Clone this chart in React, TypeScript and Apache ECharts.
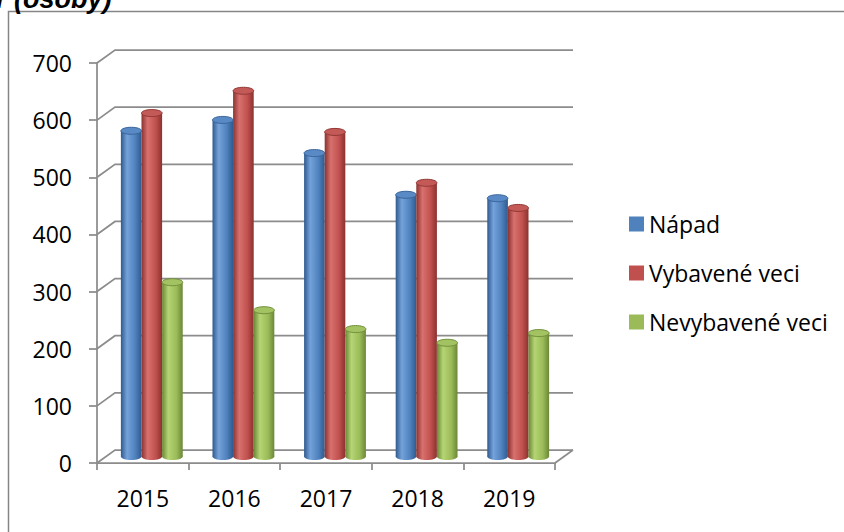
import React, { useEffect, useRef } from "react";
import * as echarts from "echarts";

const categories = ["2015", "2016", "2017", "2018", "2019"];
const napad = [570, 589, 531, 458, 452];
const vybavene = [601, 640, 568, 479, 435];
const nevybavene = [305, 256, 223, 199, 216];
const yTicks = [0, 100, 200, 300, 400, 500, 600, 700];
const seriesNames = ["Nápad", "Vybavené veci", "Nevybavené veci"];

const DX = 18;
const DY = 13;
const FONT = "'Open Sans', 'Liberation Sans', sans-serif";

const palettes = [
  { base: "#4F81BD", dark: "#2f5a8e", light: "#74a2da", top: "#5a8ac6", edge: "#3a659b" },
  { base: "#C0504D", dark: "#8a3230", light: "#d8716e", top: "#c45a57", edge: "#923835" },
  { base: "#9BBB59", dark: "#6b8736", light: "#b5d574", top: "#a3c363", edge: "#71903a" },
];

export default function App() {
  const ref = useRef<HTMLDivElement>(null);

  useEffect(() => {
    if (!ref.current) return;
    const chart = echarts.init(ref.current, null, { renderer: "svg" });

    const barSeries = [napad, vybavene, nevybavene].map((vals, k) => {
      const p = palettes[k];
      return {
        type: "custom",
        name: seriesNames[k],
        itemStyle: { color: p.base },
        z: 5,
        data: vals.map((v, i) => [i, v]),
        renderItem: (params: any, api: any) => {
          const ci = api.value(0);
          const v = api.value(1);
          const [cx, ytop] = api.coord([ci, v]);
          const y0 = api.coord([ci, 0])[1];
          const band = api.size([1, 0])[0];
          const w = band * 0.225;
          const xc = cx + DX / 2 + (k - 1) * w;
          const left = xc - w / 2;
          const top = ytop - DY / 2;
          const base = y0 - DY / 2;
          const ry = w * 0.17;
          const grad = new echarts.graphic.LinearGradient(0, 0, 1, 0, [
            { offset: 0, color: p.dark },
            { offset: 0.3, color: p.light },
            { offset: 0.7, color: p.base },
            { offset: 1, color: p.dark },
          ]);
          return {
            type: "group",
            children: [
              {
                type: "ellipse",
                shape: { cx: xc, cy: base, rx: w / 2, ry },
                style: { fill: grad },
              },
              {
                type: "rect",
                shape: { x: left, y: top, width: w, height: base - top },
                style: { fill: grad },
              },
              {
                type: "ellipse",
                shape: { cx: xc, cy: top, rx: w / 2, ry },
                style: { fill: p.top, stroke: p.edge, lineWidth: 1 },
              },
            ],
          };
        },
      };
    });

    const frameSeries = {
      type: "custom",
      silent: true,
      z: 1,
      data: yTicks.map((t) => [0, t]),
      renderItem: (params: any, api: any) => {
        const cs = params.coordSys;
        const x0 = cs.x;
        const x1 = cs.x + cs.width;
        const t = api.value(1);
        const y = api.coord([0, t])[1];
        const stroke = "#8c8c8c";
        const children: any[] = [
          {
            type: "polyline",
            shape: { points: [[x0, y], [x0 + DX, y - DY], [x1 + DX, y - DY]] },
            style: { stroke, lineWidth: 1.75, fill: null },
          },
        ];
        if (t === 0) {
          children.push({
            type: "line",
            shape: { x1: x1, y1: y, x2: x1 + DX, y2: y - DY },
            style: { stroke, lineWidth: 1.75 },
          });
        }
        return { type: "group", children };
      },
    };

    chart.setOption({
      animation: false,
      grid: { left: 97, right: 289, top: 63, bottom: 69 },
      legend: {
        orient: "vertical",
        left: 624,
        top: 207,
        icon: "rect",
        itemWidth: 15,
        itemHeight: 15,
        itemGap: 25,
        data: seriesNames,
        selectedMode: false,
        textStyle: { fontFamily: FONT, fontSize: 23, color: "#000", lineHeight: 24 },
      },
      xAxis: {
        type: "category",
        data: categories,
        axisLine: { show: true, lineStyle: { color: "#8c8c8c", width: 1.75 } },
        axisTick: { show: true, length: 7, lineStyle: { color: "#8c8c8c", width: 1.75 } },
        axisLabel: { fontFamily: FONT, fontSize: 23, color: "#000", margin: 23 },
        splitLine: { show: false },
      },
      yAxis: {
        type: "value",
        min: 0,
        max: 700,
        interval: 100,
        axisLine: { show: true, lineStyle: { color: "#8c8c8c", width: 1.75 } },
        axisTick: { show: true, length: 8, lineStyle: { color: "#8c8c8c", width: 1.75 } },
        axisLabel: { fontFamily: FONT, fontSize: 23, color: "#000", margin: 25 },
        splitLine: { show: false },
      },
      graphic: [
        {
          type: "rect",
          shape: { x: 8.5, y: 11.5, width: 1000, height: 1000 },
          style: { fill: null, stroke: "#868686", lineWidth: 1.5 },
          silent: true,
        },
        {
          type: "text",
          x: -4,
          y: -1,
          style: {
            text: "r (osoby)",
            font: "italic bold 27px 'Liberation Sans', Arial, sans-serif",
            fill: "#000",
            verticalAlign: "middle",
            align: "left",
          },
        },
      ],
      series: [frameSeries, ...barSeries],
    });

    return () => chart.dispose();
  }, []);

  return (
    <div
      ref={ref}
      style={{ position: "fixed", left: 0, top: 0, width: 844, height: 532, background: "#fff" }}
    />
  );
}
